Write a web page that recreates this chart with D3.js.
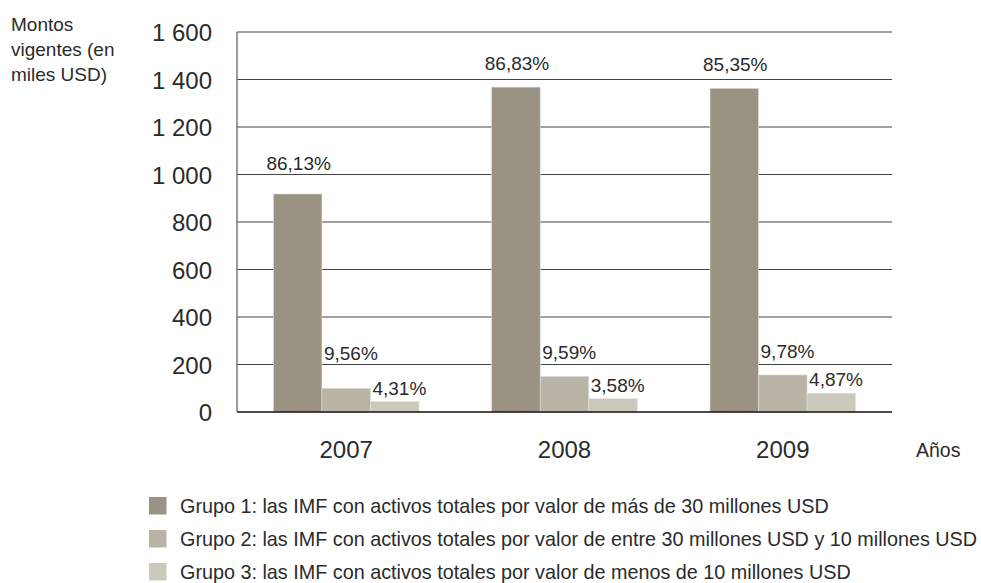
<!DOCTYPE html>
<html>
<head>
<meta charset="utf-8">
<script src="https://cdn.jsdelivr.net/npm/d3@7"></script>
<style>
  body { margin: 0; background: #fff; }
  svg { font-family: "Liberation Sans", Arial, sans-serif; }
  text { fill: #2b2b2b; }
</style>
</head>
<body>
<svg id="chart" width="981" height="583"></svg>
<script>
// chart data
var years = ['2007', '2008', '2009'];
var groups = ['g1', 'g2', 'g3'];
var grupo1 = [918, 1368, 1363];
var grupo2 = [100, 150, 156];
var grupo3 = [44, 56, 79];
var pct1 = ['86,13%', '86,83%', '85,35%'];
var pct2 = ['9,56%', '9,59%', '9,78%'];
var pct3 = ['4,31%', '3,58%', '4,87%'];
var yTicks = [0, 200, 400, 600, 800, 1000, 1200, 1400, 1600];
var legendLabels = [
  'Grupo 1: las IMF con activos totales por valor de más de 30 millones USD',
  'Grupo 2: las IMF con activos totales por valor de entre 30 millones USD y 10 millones USD',
  'Grupo 3: las IMF con activos totales por valor de menos de 10 millones USD'
];
var yTitle = ['Montos', 'vigentes (en', 'miles USD)'];
var xTitle = 'Años';

var colors = ['#9a9383', '#bab4a7', '#cbc9bc'];
var series = [grupo1, grupo2, grupo3];
var pcts = [pct1, pct2, pct3];

var mLeft = 237, mRight = 892, mTop = 32, mBottom = 412;
var svg = d3.select('#chart');

var y = d3.scaleLinear().domain([0, 1600]).range([mBottom, mTop]);
var x0 = d3.scaleBand().domain(years).range([mLeft, mRight]).paddingInner(0.333).paddingOuter(0.1667);
var x1 = d3.scaleBand().domain(groups).range([0, x0.bandwidth()]);

var fmt = d3.formatLocale({ decimal: ',', thousands: ' ', grouping: [3], currency: ['', ''] }).format(',d');

// gridlines
svg.append('g').selectAll('line').data(yTicks.filter(function(d) { return d > 0; })).enter().append('line')
  .attr('x1', mLeft).attr('x2', mRight)
  .attr('y1', function(d) { return y(d); }).attr('y2', function(d) { return y(d); })
  .attr('stroke', '#444').attr('stroke-width', 1.2);

// y axis
var yAxis = svg.append('g').attr('transform', 'translate(' + mLeft + ',0)')
  .call(d3.axisLeft(y).tickValues(yTicks).tickFormat(fmt).tickSize(0).tickPadding(25))
  .attr('font-family', null).attr('font-size', null);
yAxis.select('.domain').remove();
yAxis.selectAll('text').attr('font-size', 24).attr('fill', '#2b2b2b').attr('dy', '0.36em');

// bars
var rows = years.map(function(yr, i) {
  return groups.map(function(g, k) { return { year: yr, group: g, k: k, value: series[k][i], pct: pcts[k][i] }; });
});
var yearG = svg.append('g').selectAll('g').data(rows).enter().append('g')
  .attr('transform', function(d, i) { return 'translate(' + x0(years[i]) + ',0)'; });

yearG.selectAll('rect').data(function(d) { return d; }).enter().append('rect')
  .attr('x', function(d) { return x1(d.group); })
  .attr('y', function(d) { return y(d.value); })
  .attr('width', x1.bandwidth())
  .attr('height', function(d) { return mBottom - y(d.value); })
  .attr('fill', function(d) { return colors[d.k]; })
  .attr('stroke', '#e4e1d9').attr('stroke-width', 0.6);

// percentage labels; keep them clear of the gridline above the bar
var gap = [17, 17, 7];
function labelY(d) {
  var t = y(d.value) - gap[d.k];
  if (d.k < 2) {
    var above = yTicks.filter(function(v) { return y(v) < y(d.value); });
    var g = y(d3.min(above));
    t = Math.min(t, g - 4.5);
  }
  return t;
}
yearG.selectAll('text.pct').data(function(d) { return d; }).enter().append('text')
  .attr('class', 'pct')
  .attr('x', function(d) { return d.k === 0 ? x1(d.group) + x1.bandwidth() / 2 + 1 : x1(d.group) + 2; })
  .attr('y', labelY)
  .attr('text-anchor', function(d) { return d.k === 0 ? 'middle' : 'start'; })
  .attr('font-size', 19)
  .text(function(d) { return d.pct; });

// axis lines
svg.append('line').attr('x1', mLeft).attr('x2', mRight).attr('y1', mBottom).attr('y2', mBottom)
  .attr('stroke', '#111').attr('stroke-width', 1.3);
svg.append('line').attr('x1', mLeft).attr('x2', mLeft).attr('y1', mTop).attr('y2', mBottom)
  .attr('stroke', '#666').attr('stroke-width', 1.3);

// x labels
svg.append('g').selectAll('text').data(years).enter().append('text')
  .attr('x', function(d) { return x0(d) + x0.bandwidth() / 2; })
  .attr('y', 458)
  .attr('text-anchor', 'middle')
  .attr('font-size', 24)
  .text(function(d) { return d; });

svg.append('text').attr('x', 916).attr('y', 457).attr('font-size', 19.5).text(xTitle);

// y title
svg.append('text').attr('font-size', 19)
  .selectAll('tspan').data(yTitle).enter().append('tspan')
  .attr('x', 11).attr('y', function(d, i) { return 31 + i * 25; })
  .text(function(d) { return d; });

// legend
var leg = svg.append('g').selectAll('g').data(legendLabels).enter().append('g')
  .attr('transform', function(d, i) { return 'translate(149,' + (497 + i * 33) + ')'; });
leg.append('rect').attr('width', 17.5).attr('height', 17.5)
  .attr('fill', function(d, i) { return colors[i]; });
leg.append('text').attr('x', 31).attr('y', 15.5).attr('font-size', 19.8)
  .text(function(d) { return d; });
</script>
</body>
</html>
